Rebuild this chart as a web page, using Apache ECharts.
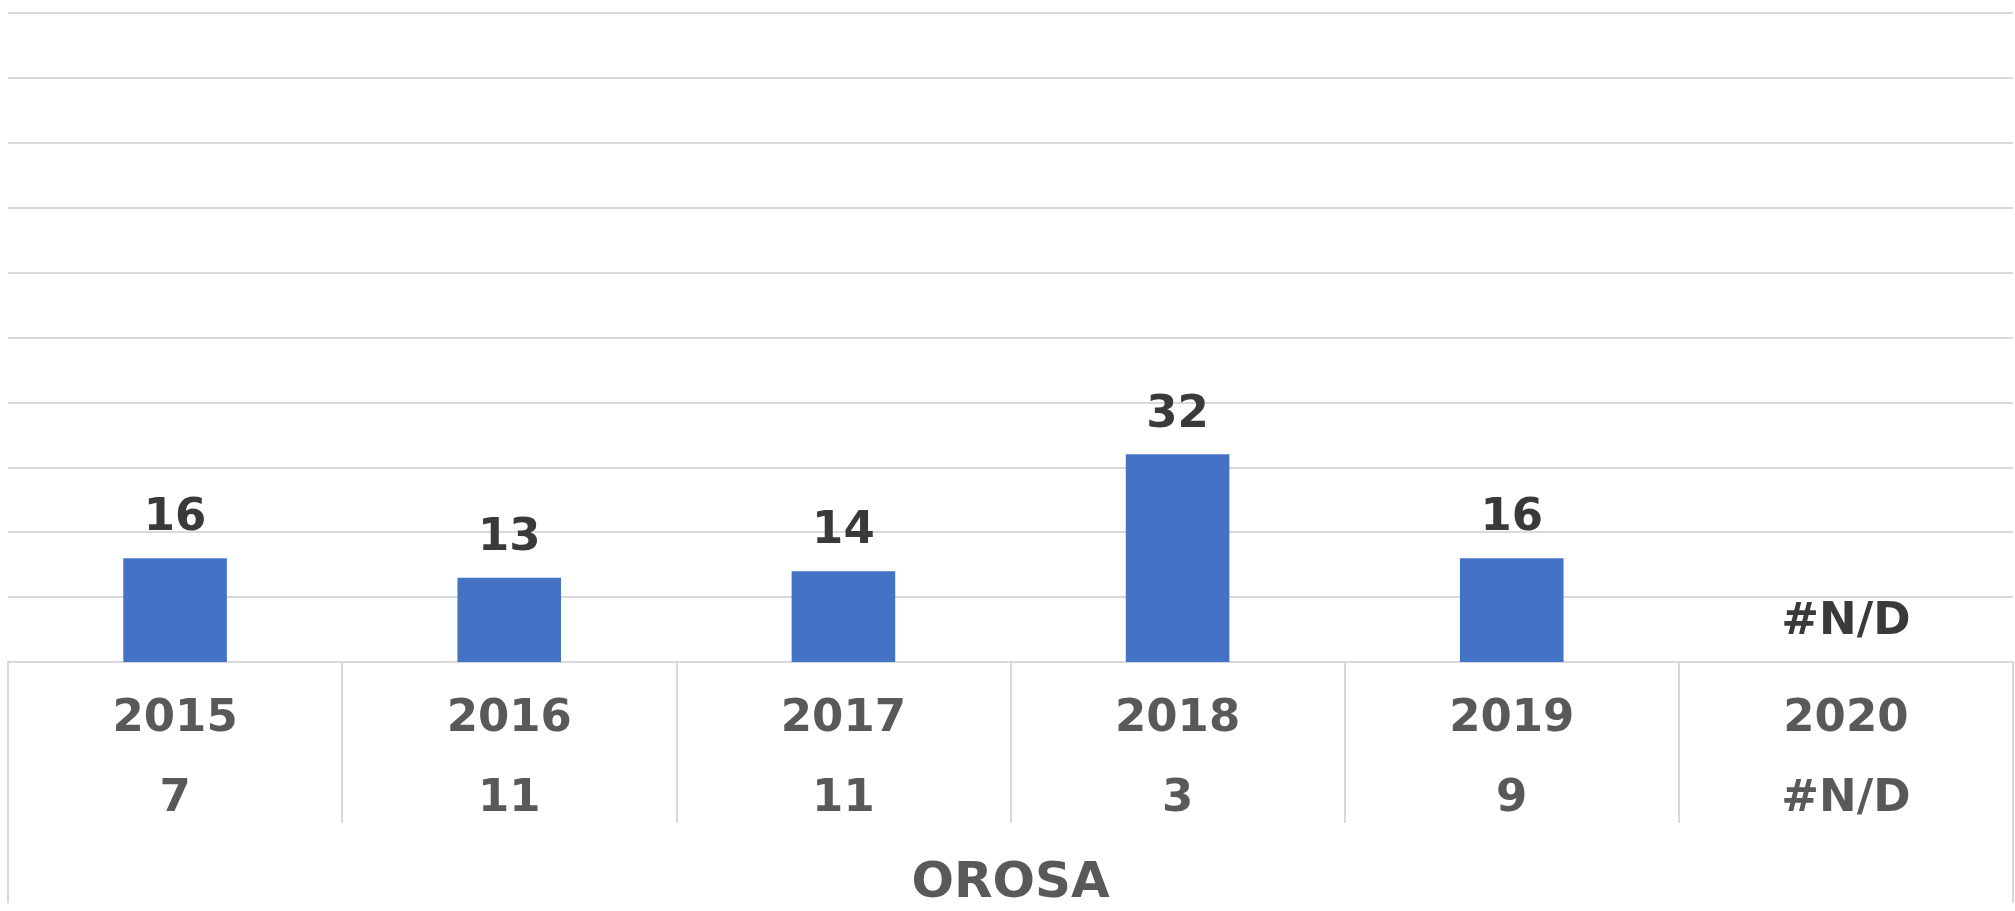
<!DOCTYPE html>
<html>
<head>
<meta charset="utf-8">
<script src="https://cdn.jsdelivr.net/npm/echarts@6/dist/echarts.min.js"></script>
<style>
  html, body { margin: 0; padding: 0; background: #fff; }
  #chart { width: 2015px; height: 911px; }
</style>
</head>
<body>
<div id="chart"></div>
<script>
// data
const years = ["2015", "2016", "2017", "2018", "2019", "2020"]
const barValues = [16, 13, 14, 32, 16, null]     // null shown as #N/D
const secondRow = ["7", "11", "11", "3", "9", "#N/D"]
const groupName = ["OROSA"]

const font = "DejaVu Sans"
const gridColor = "#d9d9d9"

const chart = echarts.init(document.getElementById("chart"))

const barData = barValues.map(v =>
  v === null ? { value: 0, label: { formatter: "#N/D" } } : v
)

const option = {
  animation: false,
  grid: { left: 8, right: 2, top: 13, bottom: 249 },
  xAxis: [
    {
      type: "category",
      position: "bottom",
      data: years,
      axisLine: { show: true, lineStyle: { color: gridColor, width: 2 } },
      axisTick: { show: true, length: 161, interval: 0, lineStyle: { color: gridColor, width: 2 } },
      axisLabel: {
        interval: 0,
        margin: 17,
        fontFamily: font,
        fontWeight: "bold",
        fontSize: 45,
        lineHeight: 80,
        color: "#595959",
        formatter: (val, i) => val + "\n" + secondRow[i]
      }
    },
    {
      type: "category",
      position: "bottom",
      data: groupName,
      axisLine: { show: false },
      axisTick: { show: true, length: 241, lineStyle: { color: gridColor, width: 2 } },
      axisLabel: {
        margin: 197,
        fontFamily: font,
        fontWeight: "bold",
        fontSize: 50,
        lineHeight: 50,
        color: "#595959"
      }
    }
  ],
  yAxis: {
    type: "value",
    min: 0,
    max: 100,
    interval: 10,
    axisLabel: { show: false },
    axisLine: { show: false },
    axisTick: { show: false },
    splitLine: { lineStyle: { color: gridColor, width: 2 } }
  },
  series: [
    {
      type: "bar",
      xAxisIndex: 0,
      barWidth: "31%",
      itemStyle: { color: "#4472c4" },
      label: {
        show: true,
        position: "top",
        distance: 17,
        fontFamily: font,
        fontWeight: "bold",
        fontSize: 45,
        color: "#3a3a3a"
      },
      data: barData
    }
  ]
}
chart.setOption(option)
</script>
</body>
</html>
